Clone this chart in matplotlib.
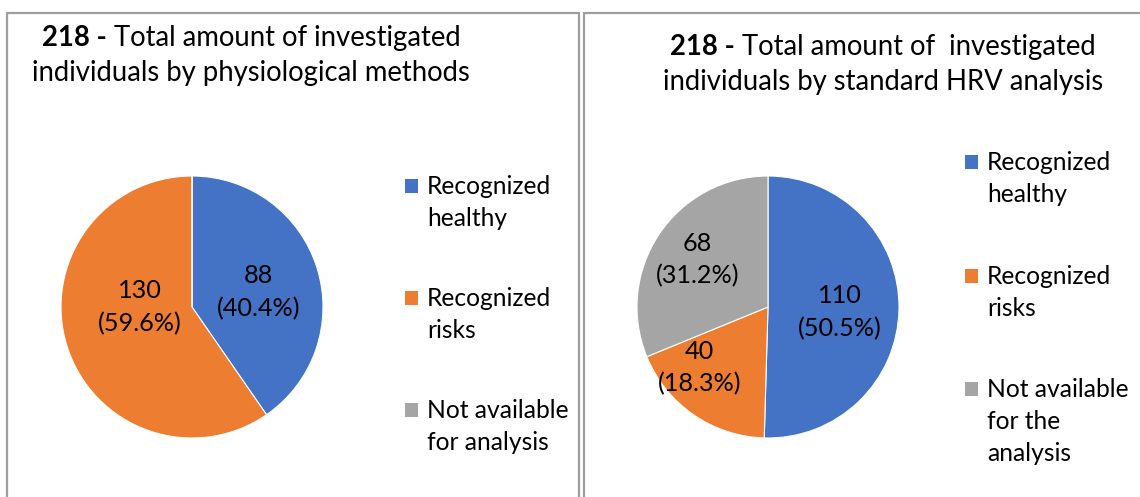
import matplotlib
matplotlib.use("Agg")
import matplotlib.pyplot as plt
from matplotlib.patches import Rectangle
import numpy as np

# ---------------- data ----------------
categories_left = ["Recognized\nhealthy", "Recognized\nrisks", "Not available\nfor analysis"]
categories_right = ["Recognized\nhealthy", "Recognized\nrisks", "Not available\nfor the\nanalysis"]
left_values = [88, 130, 0]
right_values = [110, 40, 68]
total_left = 218
total_right = 218
left_title_bold = "218 -"
left_title_line1 = " Total amount of investigated"
left_title_line2 = "individuals by physiological methods"
right_title_bold = "218 -"
right_title_line1 = " Total amount of  investigated"
right_title_line2 = "individuals by standard HRV analysis"
colors = ["#4472C4", "#ED7D31", "#A5A5A5"]

# ---------------- style ----------------
W, H = 1140, 497
FONT = "Lato"
TITLE_FS = 19.8
LEG_FS = 17.7
LAB_FS = 18.2
TXT_COL = "#000000"
plt.rcParams["font.family"] = [FONT, "DejaVu Sans"]

fig = plt.figure(figsize=(W / 100, H / 100), dpi=100)
fig.patch.set_facecolor("white")


def fx(x):
    return x / W


def fy(y):
    return 1 - y / H


# panel borders
border_col = "#9E9E9E"
fig.add_artist(Rectangle((fx(7), fy(500)), fx(579 - 7), (500 - 13) / H,
                         transform=fig.transFigure, fill=False,
                         edgecolor=border_col, linewidth=1.6))
fig.add_artist(Rectangle((fx(584), fy(500)), fx(1150 - 584), (500 - 13) / H,
                         transform=fig.transFigure, fill=False,
                         edgecolor=border_col, linewidth=1.6))

renderer = fig.canvas.get_renderer()


def draw_title(cx, base1, base2, bold, rest, line2):
    tb = fig.text(0, 0, bold, fontsize=TITLE_FS, fontweight="bold", va="baseline", ha="left",
                  color=TXT_COL)
    tr = fig.text(0, 0, rest, fontsize=TITLE_FS, va="baseline", ha="left", color=TXT_COL)
    wb = tb.get_window_extent(renderer).width
    wr = tr.get_window_extent(renderer).width
    x0 = cx - (wb + wr) / 2
    tb.set_position((fx(x0), fy(base1)))
    tr.set_position((fx(x0 + wb), fy(base1)))
    fig.text(fx(cx), fy(base2), line2, fontsize=TITLE_FS, va="baseline", ha="center",
             color=TXT_COL)


draw_title(251, 46, 81, left_title_bold, left_title_line1, left_title_line2)
draw_title(883, 55, 90, right_title_bold, right_title_line1, right_title_line2)

LAB_GAP = 16.5  # px half distance between the two label lines


def draw_pie(cx, cy, r, values, total, dists, angle_adj):
    ax = fig.add_axes([fx(cx - r), fy(cy + r), 2 * r / W, 2 * r / H])
    wedges, _ = ax.pie(values, colors=colors, startangle=90, counterclock=False,
                       radius=1, wedgeprops=dict(edgecolor="white", linewidth=0.8))
    ax.set_xlim(-1, 1)
    ax.set_ylim(-1, 1)
    ax.set_aspect("equal")
    ax.axis("off")
    for w, v, d, da in zip(wedges, values, dists, angle_adj):
        if v == 0:
            continue
        th = np.deg2rad((w.theta1 + w.theta2) / 2 + da)
        px, py = d * np.cos(th), d * np.sin(th)
        lines = [f"{v}", f"({v / total * 100:.1f}%)"]
        for ln, off in zip(lines, [LAB_GAP, -LAB_GAP]):
            ax.annotate(ln, xy=(px, py), xytext=(0, off * 0.72), textcoords="offset points",
                        ha="center", va="center", fontsize=LAB_FS, color=TXT_COL)
    return ax


draw_pie(192, 307, 131, left_values, total_left, [0.52, 0.40, 0.5], [-5, -17, 0])
draw_pie(768, 307, 131, right_values, total_right, [0.55, 0.70, 0.65], [-3, -14, 0])

LEG_LINE = 32  # px between legend text lines


def draw_legend(sq_x, text_x, baselines, labels):
    for b, lab, c in zip(baselines, labels, colors):
        fig.add_artist(Rectangle((fx(sq_x), fy(b - 1)), 13 / W, 14 / H,
                                 transform=fig.transFigure, facecolor=c, edgecolor="none"))
        for i, ln in enumerate(lab.split("\n")):
            fig.text(fx(text_x), fy(b + i * LEG_LINE), ln, fontsize=LEG_FS, va="baseline",
                     ha="left", color=TXT_COL)


draw_legend(405, 427, [194, 306, 418], categories_left)
draw_legend(965, 987, [170, 284, 397], categories_right)

fig.savefig("out.png", dpi=100, facecolor="white")
